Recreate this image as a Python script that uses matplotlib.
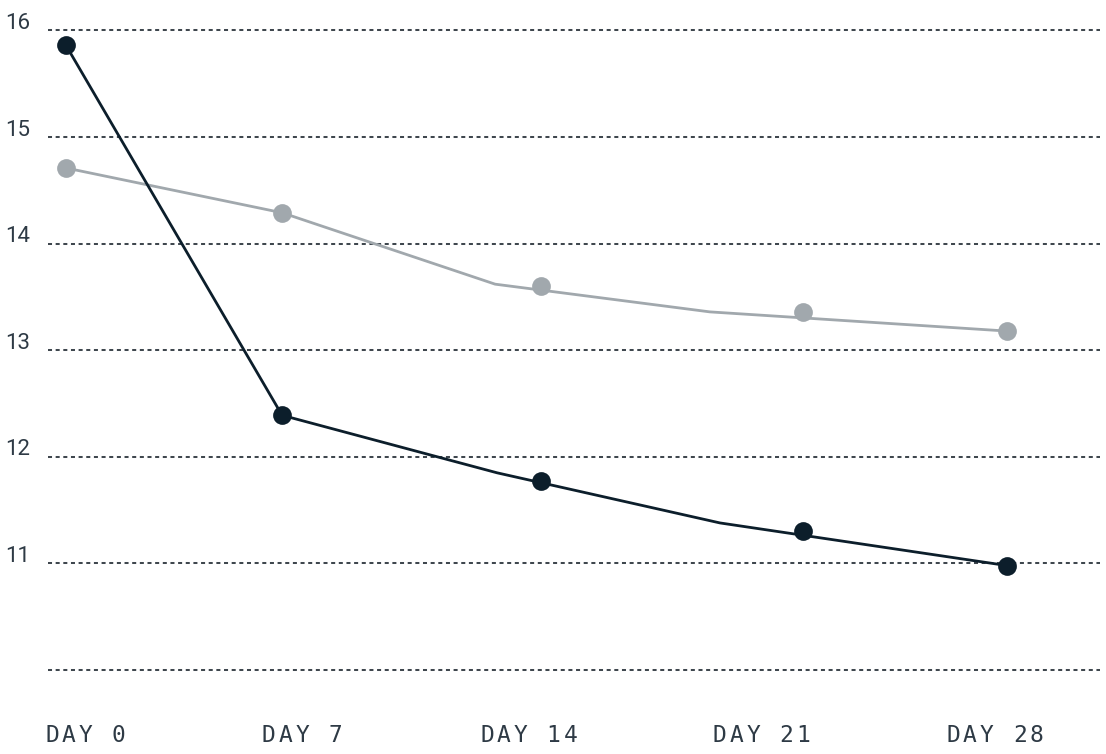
import matplotlib
matplotlib.use('Agg')
import matplotlib.pyplot as plt
import matplotlib.transforms as mtransforms

# marker positions (x in days) and values
marker_x = [0, 6.43, 14.13, 21.93, 28]
dark_marks = [15.86, 12.39, 11.77, 11.30, 10.98]
light_marks = [14.71, 14.29, 13.60, 13.36, 13.18]

# the connecting lines bend between the dots
line_x_dark = [0, 6.43, 12.83, 19.46, 28]
dark_line = [15.86, 12.39, 11.85, 11.38, 10.98]
line_x_light = [0, 6.43, 12.77, 19.16, 28]
light_line = [14.71, 14.29, 13.62, 13.36, 13.18]

y_ticks = [11, 12, 13, 14, 15, 16]
grid_vals = [10, 11, 12, 13, 14, 15, 16]
x_labels = ['DAY 0', 'DAY 7', 'DAY 14', 'DAY 21', 'DAY 28']
x_label_pos = [-0.625, 5.83, 12.32, 19.25, 26.19]

DARK = '#0c1e2b'
LIGHT = '#a1a8ad'
TEXT = '#2e3a45'
GRID = '#3f474e'

fig = plt.figure(figsize=(11.06, 7.54), dpi=100)
ax = fig.add_axes([48 / 1106, 73 / 754, 1052 / 1106, 681 / 754])
ax.set_xlim(-0.536, 30.77)
ax.set_ylim(9.897, 16.286)
ax.axis('off')

for g in grid_vals:
    ax.axhline(g, color=GRID, lw=1.45, linestyle=(0, (2.0, 1.8)), zorder=1)

ax.plot(line_x_light, light_line, color=LIGHT, lw=2.0, zorder=2, solid_joinstyle='round')
ax.plot(line_x_dark, dark_line, color=DARK, lw=2.0, zorder=3, solid_joinstyle='round')
ax.plot(marker_x, light_marks, 'o', color=LIGHT, ms=13.5, mew=0, zorder=4, clip_on=False)
ax.plot(marker_x, dark_marks, 'o', color=DARK, ms=13.5, mew=0, zorder=5, clip_on=False)

# y labels sit just above their gridline, at the far left
ytrans = ax.get_yaxis_transform()
for v in y_ticks:
    ax.text(-0.0409, v + 0.066, str(v), transform=ytrans, ha='left', va='center',
            fontsize=16, family='Roboto', color=TEXT)

# x labels: monospace with wide letter spacing, drawn char by char
xtrans = mtransforms.blended_transform_factory(ax.transData, fig.transFigure)
pitch = 12.0  # points
for lab, pos in zip(x_labels, x_label_pos):
    for i, ch in enumerate(lab):
        tr = mtransforms.offset_copy(xtrans, fig=fig, x=i * pitch, units='points')
        ax.text(pos, 12 / 754, ch, transform=tr, ha='left', va='baseline',
                fontsize=16.5, family='DejaVu Sans Mono', color=TEXT, clip_on=False)

plt.savefig('out.png', dpi=100)
plt.close()
